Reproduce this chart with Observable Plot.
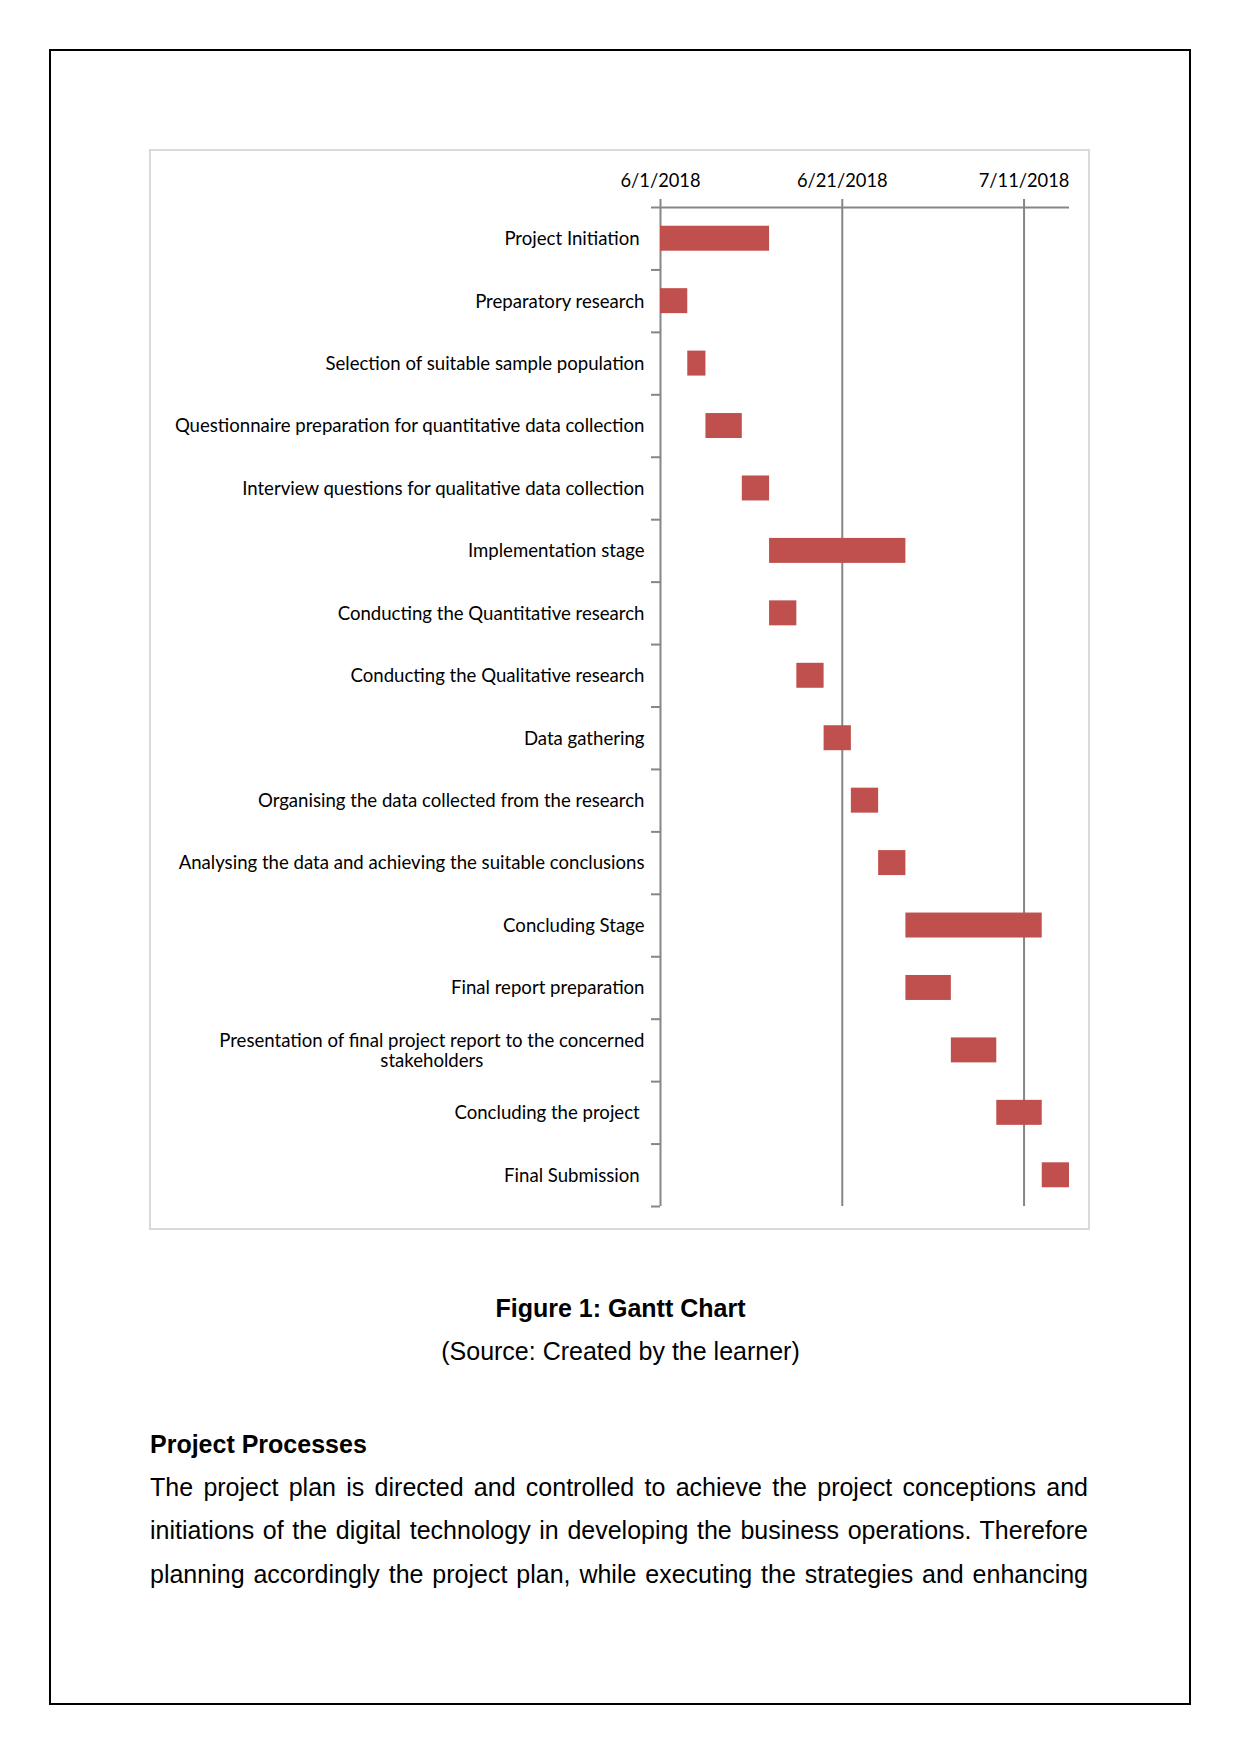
<!DOCTYPE html>
<html>
<head>
<meta charset="utf-8">
<script src="https://cdn.jsdelivr.net/npm/d3@7"></script>
<script src="https://cdn.jsdelivr.net/npm/@observablehq/plot@0.6"></script>
<style>
  html, body { margin: 0; padding: 0; background: #fff; }
  body { width: 1241px; height: 1754px; position: relative; overflow: hidden; font-family: "Liberation Sans", Arial, sans-serif; color: #000; }
  #page { position: absolute; left: 49px; top: 49px; width: 1142px; height: 1656px; border: 2px solid #000; box-sizing: border-box; }
  #frame { position: absolute; left: 149px; top: 149px; width: 941px; height: 1081px; border: 2px solid #d9d9d9; box-sizing: border-box; }
  #chart { position: absolute; left: 150px; top: 150px; }
  #chart svg text { white-space: pre; }
  .cap { position: absolute; left: 0; width: 1241px; text-align: center; line-height: 1; white-space: nowrap; }
  #title { font-weight: bold; font-size: 25px; top: 1296px; }
  #source { font-size: 25px; top: 1339px; }
  #heading { position: absolute; left: 150px; top: 1432px; font-weight: bold; font-size: 25px; line-height: 1; white-space: nowrap; }
  .para { position: absolute; left: 150px; width: 938px; font-size: 25px; line-height: 1; text-align: justify; text-align-last: justify; }
</style>
</head>
<body>
<div id="page"></div>
<div id="frame"></div>
<div id="chart"></div>
<div id="title" class="cap">Figure 1: Gantt Chart</div>
<div id="source" class="cap">(Source: Created by the learner)</div>
<div id="heading">Project Processes</div>
<div id="p1" class="para" style="top:1475px">The project plan is directed and controlled to achieve the project conceptions and</div>
<div id="p2" class="para" style="top:1518px">initiations of the digital technology in developing the business operations. Therefore</div>
<div id="p3" class="para" style="top:1562px">planning accordingly the project plan, while executing the strategies and enhancing</div>
<script>
// ---- data ----
const tasks = [
  "Project Initiation ",
  "Preparatory research",
  "Selection of suitable sample population",
  "Questionnaire preparation for quantitative data collection",
  "Interview questions for qualitative data collection",
  "Implementation stage",
  "Conducting the Quantitative research",
  "Conducting the Qualitative research",
  "Data gathering",
  "Organising the data collected from the research",
  "Analysing the data and achieving the suitable conclusions",
  "Concluding Stage",
  "Final report preparation",
  "Presentation of final project report to the concerned\nstakeholders",
  "Concluding the project ",
  "Final Submission "
];
const startDates = [
  "2018-06-01", "2018-06-01", "2018-06-04", "2018-06-06", "2018-06-10",
  "2018-06-13", "2018-06-13", "2018-06-16", "2018-06-19", "2018-06-22",
  "2018-06-25", "2018-06-28", "2018-06-28", "2018-07-03", "2018-07-08",
  "2018-07-13"
];
const durations = [12, 3, 2, 4, 3, 15, 3, 3, 3, 3, 3, 15, 5, 5, 5, 3];
const tickLabels = ["2018-06-01", "2018-06-21", "2018-07-11"];
const axisDomain = ["2018-06-01", "2018-07-16"];

// ---- build ----
const day = 24 * 3600 * 1000;
const rows = tasks.map((name, i) => {
  const s = new Date(startDates[i] + "T00:00:00Z");
  return { name, i, start: s, end: new Date(+s + durations[i] * day) };
});
const ticks = tickLabels.map(d => new Date(d + "T00:00:00Z"));
const fmt = d => `${d.getUTCMonth() + 1}/${d.getUTCDate()}/${d.getUTCFullYear()}`;
const gray = "#868686";
const n = tasks.length;

const chart = Plot.plot({
  width: 939,
  height: 1079,
  marginLeft: 510,
  marginRight: 20,
  marginTop: 57,
  marginBottom: 23,
  style: { fontFamily: "Lato, sans-serif", fontSize: "18.6px", color: "#000", background: "transparent", overflow: "visible" },
  x: { type: "utc", domain: axisDomain.map(d => new Date(d + "T00:00:00Z")) },
  y: { type: "linear", domain: [0, n], reverse: true },
  marks: [
    Plot.gridX(ticks, { stroke: gray, strokeOpacity: 1, strokeWidth: 2 }),
    Plot.ruleY([0], { stroke: gray, strokeWidth: 2 }),
    Plot.axisX({ anchor: "top", ticks, tickFormat: fmt, tickSize: 9, tickPadding: 12, stroke: gray, strokeWidth: 2, fill: "#000", label: null, fontSize: 18.3 }),
    Plot.axisY({ ticks: d3.range(0, n + 1), tickSize: 9, tickFormat: () => "", stroke: gray, strokeWidth: 2, label: null }),
    Plot.rectX(rows, { x1: "start", x2: "end", y1: d => d.i + 0.3, y2: d => d.i + 0.7, fill: "#C0504D" }),
    Plot.text(rows, { y: d => d.i + 0.5, text: "name", frameAnchor: "left", textAnchor: "end", dx: -16, fill: "#000", fontSize: 18.6, lineHeight: 1.07 })
  ]
});
document.getElementById("chart").appendChild(chart);

// centre the lines of a wrapped label, as the original does
chart.querySelectorAll("text").forEach(t => {
  const spans = t.querySelectorAll("tspan");
  if (spans.length > 1) {
    const w = Math.max(...Array.from(spans, s => s.getComputedTextLength()));
    t.setAttribute("text-anchor", "middle");
    const tr = t.getAttribute("transform") || "";
    t.setAttribute("transform", `translate(${-w / 2},0) ${tr}`);
  }
});
</script>
</body>
</html>
